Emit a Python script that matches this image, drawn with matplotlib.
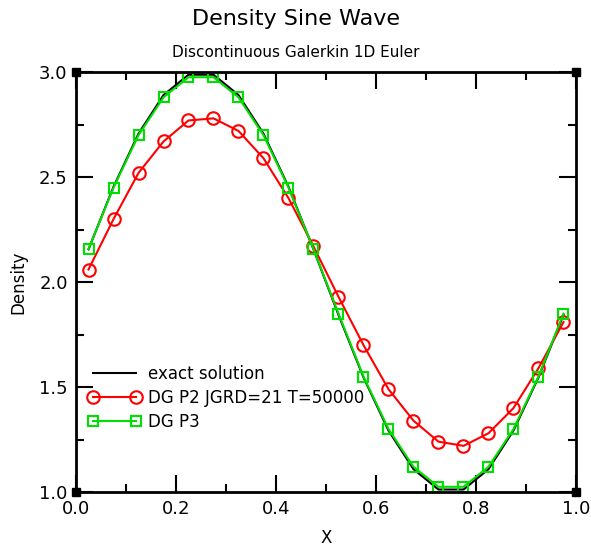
import matplotlib
matplotlib.use('Agg')
import matplotlib.pyplot as plt
from matplotlib.ticker import MultipleLocator

# Daten
x = [0.025, 0.075, 0.125, 0.175, 0.225, 0.275, 0.325, 0.375, 0.425, 0.475,
     0.525, 0.575, 0.625, 0.675, 0.725, 0.775, 0.825, 0.875, 0.925, 0.975]
exact = [2.156, 2.454, 2.707, 2.891, 2.988, 2.988, 2.891, 2.707, 2.454, 2.156,
         1.844, 1.546, 1.293, 1.109, 1.012, 1.012, 1.109, 1.293, 1.546, 1.844]
dg_p2 = [2.06, 2.30, 2.52, 2.67, 2.77, 2.78, 2.72, 2.59, 2.40, 2.17,
         1.93, 1.70, 1.49, 1.34, 1.24, 1.22, 1.28, 1.40, 1.59, 1.81]
dg_p3 = [2.157, 2.45, 2.70, 2.88, 2.976, 2.976, 2.88, 2.70, 2.45, 2.157,
         1.85, 1.55, 1.30, 1.12, 1.025, 1.025, 1.12, 1.30, 1.55, 1.85]

fig = plt.figure(figsize=(5.91, 5.51), dpi=100)
ax = fig.add_axes([0.1286, 0.107, 0.846, 0.762])

ax.plot(x, exact, color='black', lw=1.5, label='exact solution')
ax.plot(x, dg_p2, color='red', lw=1.5, marker='o', ms=9, mfc='none', mew=1.5,
        label='DG P2 JGRD=21 T=50000')
ax.plot(x, dg_p3, color='#00e000', lw=1.5, marker='s', ms=7.5, mfc='none', mew=1.5,
        label='DG P3')

ax.set_xlim(0, 1)
ax.set_ylim(1, 3)
ax.xaxis.set_major_locator(MultipleLocator(0.2))
ax.xaxis.set_minor_locator(MultipleLocator(0.1))
ax.yaxis.set_major_locator(MultipleLocator(0.5))
ax.yaxis.set_minor_locator(MultipleLocator(0.25))
ax.tick_params(which='both', direction='in', top=True, right=True, width=1.5,
               labelsize=13, pad=6)
ax.tick_params(which='major', length=12)
ax.tick_params(which='minor', length=6)
for s in ax.spines.values():
    s.set_linewidth(2)

# kleine Eckquadrate
ax.plot([0, 1, 0, 1], [0, 0, 1, 1], 's', color='black', ms=6,
        transform=ax.transAxes, clip_on=False)

ax.set_xlabel('X', fontsize=12, labelpad=8)
ax.set_ylabel('Density', fontsize=12, labelpad=8)

fig.text(0.5, 0.965, 'Density Sine Wave', ha='center', va='center', fontsize=16)
fig.text(0.5, 0.905, 'Discontinuous Galerkin 1D Euler', ha='center', va='center', fontsize=11)

ax.legend(loc='upper left', bbox_to_anchor=(0.0, 0.33), frameon=False, fontsize=12,
          numpoints=2, handlelength=3.2, handletextpad=0.4, labelspacing=0.35,
          borderaxespad=0.3)

fig.savefig('out.png', dpi=100)
